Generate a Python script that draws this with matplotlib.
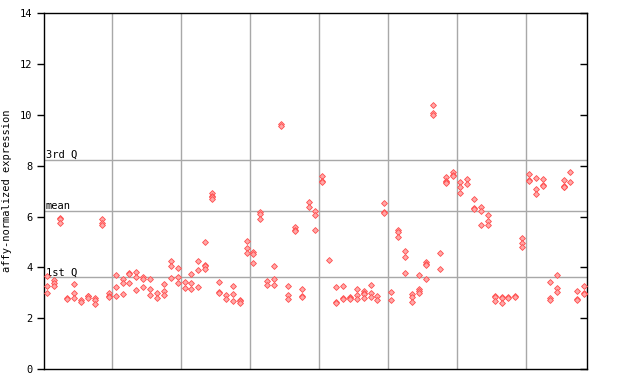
import numpy as np
import matplotlib
matplotlib.use("Agg")
import matplotlib.pyplot as plt

# expression values per sample, samples 0..78
values = [
    [3.66, 3.27, 2.98], [3.5, 3.4, 3.27], [5.93, 5.9, 5.76], [2.78, 2.74],
    [3.35, 2.98, 2.81], [2.72, 2.64], [2.89, 2.86, 2.81], [2.81, 2.72, 2.56],
    [5.9, 5.73, 5.67], [2.98, 2.87, 2.84], [3.69, 3.22, 2.87], [3.56, 3.4, 2.95],
    [3.78, 3.75, 3.37], [3.83, 3.61, 3.11], [3.61, 3.53, 3.22], [3.53, 3.14, 2.9],
    [2.98, 2.81], [3.35, 3.06, 2.9], [4.25, 4.06, 3.57], [3.98, 3.61, 3.4],
    [3.43, 3.18], [3.73, 3.4, 3.14], [4.24, 3.9, 3.22], [4.99, 4.08, 4.05, 3.95],
    [6.92, 6.8, 6.76, 6.69], [3.41, 3.02, 2.98], [2.9, 2.76], [3.27, 2.95, 2.66],
    [2.71, 2.67, 2.59], [5.04, 4.75, 4.55], [4.59, 4.53, 4.16], [6.17, 6.1, 5.89],
    [3.46, 3.31], [4.06, 3.53, 3.31], [9.63, 9.58], [3.27, 2.91, 2.76],
    [5.6, 5.49, 5.45], [3.14, 2.87, 2.83], [6.56, 6.36], [6.23, 6.06, 5.47],
    [7.6, 7.4, 7.36], [4.28], [3.24, 2.63, 2.59], [3.27, 2.79, 2.75],
    [2.83, 2.79, 2.76], [3.14, 2.93, 2.76], [3.07, 3.0, 2.96, 2.78], [3.29, 3.0, 2.83],
    [2.87, 2.72], [6.52, 6.17, 6.13], [3.02, 2.7], [5.47, 5.38, 5.18],
    [4.63, 4.4, 3.77], [2.95, 2.82, 2.65], [3.69, 3.13, 3.09, 3.0], [4.2, 4.15, 4.11, 3.53],
    [10.39, 10.07, 10.0], [4.55, 3.92], [7.55, 7.4, 7.36, 7.34], [7.77, 7.63, 7.59],
    [7.35, 7.18, 6.92], [7.48, 7.27], [6.68, 6.32, 6.28], [6.36, 6.21, 5.66],
    [6.05, 5.83, 5.66], [2.87, 2.83, 2.69], [2.83, 2.79, 2.61], [2.83, 2.79],
    [2.89, 2.85], [5.14, 4.97, 4.82], [7.68, 7.45, 7.41], [7.51, 7.08, 6.88],
    [7.47, 7.26, 7.22], [3.41, 2.78, 2.72], [3.69, 3.18, 3.02], [7.43, 7.22, 7.18, 7.15],
    [7.74, 7.35], [3.06, 2.77, 2.72], [3.27, 3.01, 2.97],
]
samples = list(range(len(values)))

q1 = 3.61
mean_val = 6.21
q3 = 8.22
ref_labels = ["1st Q", "mean", "3rd Q"]

fig = plt.figure(figsize=(6.4, 3.84), dpi=100)
ax = fig.add_axes([0.0692, 0.039, 0.9177 - 0.0692, 0.9653 - 0.039])

xs = []
ys = []
for s, vals in zip(samples, values):
    for v in vals:
        xs.append(s)
        ys.append(v)

for k in range(9, len(samples), 10):
    ax.axvline(k + 0.5, color="#a8a8a8", lw=1, zorder=1)
for yv, lab in zip([q1, mean_val, q3], ref_labels):
    ax.axhline(yv, color="#a8a8a8", lw=1, zorder=1)
    ax.text(0.003, yv, lab, transform=ax.get_yaxis_transform(), ha="left",
            va="bottom", fontsize=7.5, family="DejaVu Sans Mono")

ax.plot(xs, ys, linestyle="none", marker="D", markersize=3.0,
        markerfacecolor="#ffa8a8", markeredgecolor="#ff4c4c",
        markeredgewidth=0.6, zorder=3)

ax.set_xlim(-0.35, 78.45)
ax.set_ylim(0, 14)
ax.set_yticks(range(0, 15, 2))
ax.set_xticks([])
ax.tick_params(axis="y", direction="out", length=5, labelsize=7.5,
               right=True, width=1)
for lbl in ax.get_yticklabels():
    lbl.set_family("DejaVu Sans Mono")
ax.set_ylabel("affy-normalized expression", fontsize=7.5,
              family="DejaVu Sans Mono", labelpad=6)
for sp in ax.spines.values():
    sp.set_linewidth(1)

# right side ticks point inwards
for t in ax.yaxis.get_major_ticks():
    t.tick2line.set_marker(matplotlib.lines.TICKLEFT)

fig.savefig("out.png", dpi=100)
